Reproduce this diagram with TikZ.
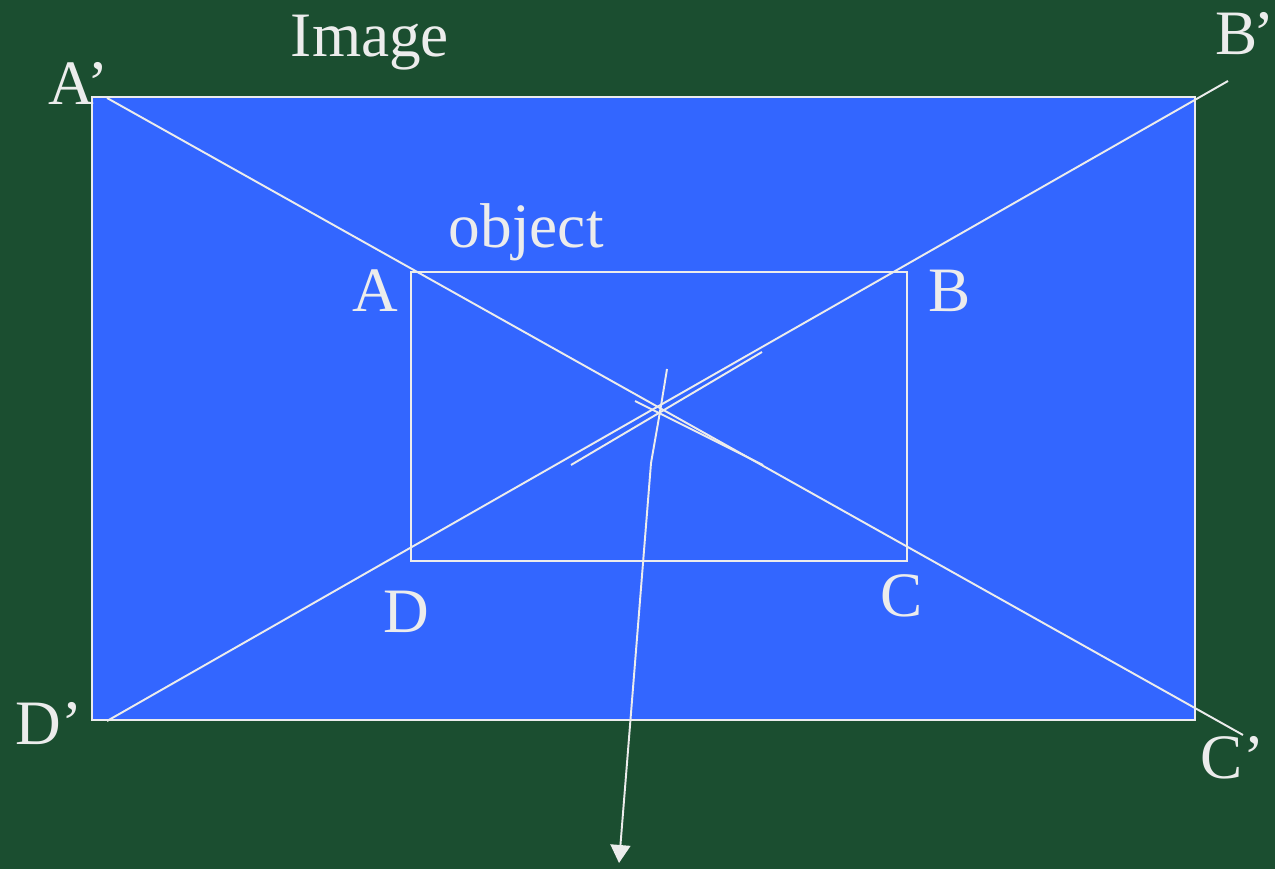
\documentclass[tikz,border=0pt]{standalone}
\usepackage{fontspec}
\setmainfont{Liberation Serif}
\usepackage{tikz}
\usetikzlibrary{arrows.meta}

\definecolor{marble}{RGB}{27,78,48}
\definecolor{slide}{RGB}{51,102,255}
\definecolor{chalk}{RGB}{236,236,236}

\begin{document}
\begin{tikzpicture}[thick, line width=1.1pt,
    lbl/.style={anchor=base west, inner sep=0pt, text=chalk, font=\fontsize{36}{40}\selectfont}]
      % Background
      \fill[marble] (0,0) rectangle (25.5,17.38);
      \useasboundingbox (0,0) rectangle (25.5,17.38);

      % Define coordinates
      \coordinate (img_tl) at (1.84, 15.44);
      \coordinate (img_br) at (23.9, 2.98);
      \coordinate (obj_tl) at (8.22, 11.94);
      \coordinate (obj_br) at (18.14, 6.16);
      \coordinate (ray_a) at (2.14, 15.42);
      \coordinate (ray_c) at (24.86, 2.68);
      \coordinate (ray_d) at (2.14, 2.96);
      \coordinate (ray_b) at (24.56, 15.76);
      \coordinate (lens1_s) at (12.7, 9.36);
      \coordinate (lens1_e) at (15.26, 8.08);
      \coordinate (lens2_s) at (11.42, 8.08);
      \coordinate (lens2_e) at (15.24, 10.34);
      \coordinate (axis_top) at (13.34, 10.0);
      \coordinate (axis_mid) at (13.2, 9.14);
      \coordinate (axis_bend) at (13.02, 8.12);
      \coordinate (axis_end) at (12.38, 0.12);

      % Draw the image plane (blue) and the object
      \draw[chalk, fill=slide] (img_tl) rectangle (img_br);
      \draw[chalk] (obj_tl) rectangle (obj_br);

      % Draw rays through the centre
      \draw[chalk] (ray_a) -- (ray_c);
      \draw[chalk] (ray_d) -- (ray_b);
      \draw[chalk] (lens1_s) -- (lens1_e);
      \draw[chalk] (lens2_s) -- (lens2_e);

      % Draw the optical axis
      \draw[chalk, -{Triangle[width=0.4cm, length=0.36cm]}]
        (axis_top) .. controls (axis_mid) .. (axis_bend) -- (axis_end);

      % Labels
      \node[lbl] (image) at (5.8, 16.24) {Image};
      \node[lbl] (object) at (8.96, 12.42) {object};
      \node[lbl] (A) at (7.04, 11.14) {A};
      \node[lbl] (B) at (18.56, 11.14) {B};
      \node[lbl] (C) at (17.6, 5.04) {C};
      \node[lbl] (D) at (7.66, 4.72) {D};
      \node[lbl] (Ap) at (0.96, 15.28) {A’};
      \node[lbl] (Bp) at (24.3, 16.28) {B\kern-0.08em’};
      \node[lbl] (Cp) at (24.0, 1.82) {C’};
      \node[lbl] (Dp) at (0.3, 2.5) {D’};
    \end{tikzpicture}
\end{document}
